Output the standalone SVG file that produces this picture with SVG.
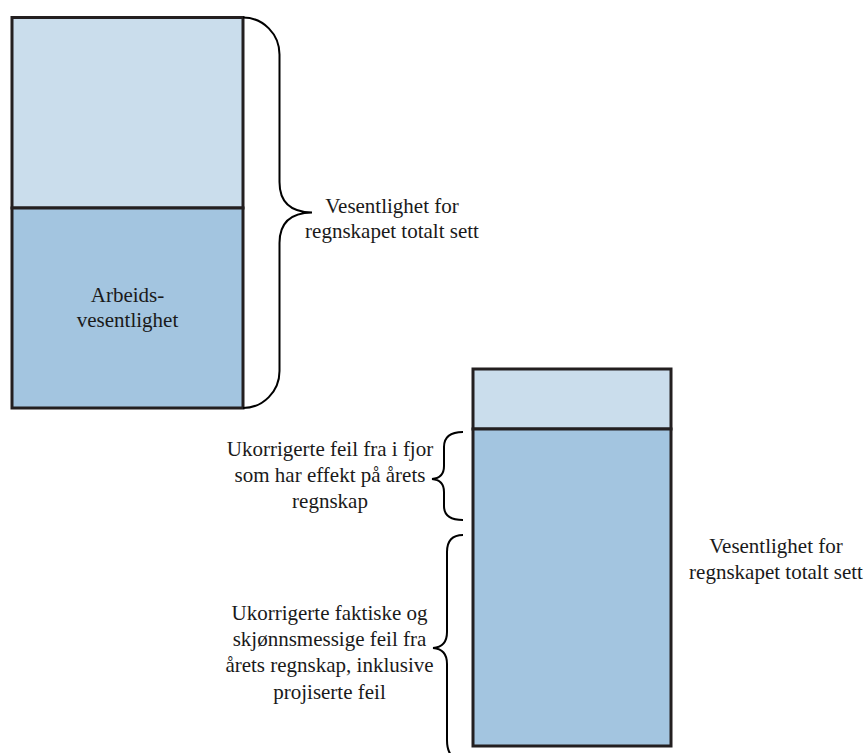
<svg xmlns="http://www.w3.org/2000/svg" width="867" height="753" viewBox="0 0 867 753">
<style>
.light{fill:#CADDEC;stroke:#231F20;stroke-width:3}
.dark{fill:#A3C5E0;stroke:#231F20;stroke-width:3}
.brace{fill:none;stroke:#000;stroke-width:2}
.t{font-family:'Liberation Serif',serif;font-size:21px;fill:#1a1a1a;text-anchor:middle}
</style>
<rect width="867" height="753" fill="#fff"/>
<g id="left-box">
<rect class="light" x="12" y="17.5" width="231" height="190.5"/>
<rect class="dark" x="12" y="208" width="231" height="200"/>
<text class="t" font-family="Liberation Serif, serif" x="127.5" y="302">Arbeids-</text>
<text class="t" font-family="Liberation Serif, serif" x="127.5" y="327">vesentlighet</text>
</g>
<g id="right-box">
<rect class="light" x="473" y="369" width="198" height="60"/>
<rect class="dark" x="473" y="429" width="198" height="317"/>
</g>
<g id="connectors">
<path class="brace" d="M243,17.5 A36.5,37 0 0 1 279.5,54.5 L279.5,182 Q279.5,212 312,212.5 Q279.5,213 279.5,243 L279.5,371 A36.5,37 0 0 1 243,408"/>
<path class="brace" d="M463,432 Q444,432 444,447 L444,466 Q444,478 432,479 Q444,480 444,492 L444,506 Q444,520 463,520"/>
<path class="brace" d="M463,535 Q447,535 447,552 L447,632 Q447,647 433,648 Q447,649 447,664 L447,740 Q447,760 463,760"/>
</g>
<g id="label-total-top" font-family="Liberation Serif, serif">
<text class="t" x="392" y="213">Vesentlighet for</text>
<text class="t" x="392" y="238">regnskapet totalt sett</text>
</g>
<g id="label-prior" font-family="Liberation Serif, serif">
<text class="t" x="330" y="456">Ukorrigerte feil fra i fjor</text>
<text class="t" x="330" y="482">som har effekt på årets</text>
<text class="t" x="330" y="508">regnskap</text>
</g>
<g id="label-current" font-family="Liberation Serif, serif">
<text class="t" x="329.5" y="620">Ukorrigerte faktiske og</text>
<text class="t" x="329.5" y="646">skjønnsmessige feil fra</text>
<text class="t" x="329.5" y="672">årets regnskap, inklusive</text>
<text class="t" x="329.5" y="699">projiserte feil</text>
</g>
<g id="label-total-right" font-family="Liberation Serif, serif">
<text class="t" x="776" y="553">Vesentlighet for</text>
<text class="t" x="776" y="579">regnskapet totalt sett</text>
</g>
</svg>
